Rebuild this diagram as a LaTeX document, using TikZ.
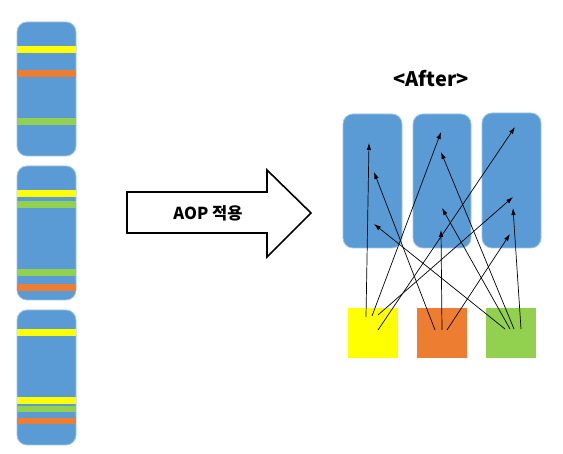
\documentclass[tikz,border=0pt]{standalone}
\usepackage{fontspec}
\setmainfont{Noto Sans CJK KR}
\usetikzlibrary{arrows.meta}
\definecolor{modblue}{HTML}{5B9BD5}
\definecolor{cutyellow}{HTML}{FFFF00}
\definecolor{cutorange}{HTML}{ED7D31}
\definecolor{cutgreen}{HTML}{92D050}
\begin{document}
\begin{tikzpicture}[x=1pt, y=-1pt, >={Latex[length=7pt,width=4.5pt]},
    module/.style={fill=modblue, draw=modblue!60!white, line width=0.8pt, rounded corners=10pt, inner sep=0pt},
    concern/.style={minimum width=50, minimum height=50, inner sep=0pt},
    link/.style={->, line width=0.7pt}]
    \useasboundingbox (0,0) rectangle (563,454);

    % Before: three modules with scattered concerns
    \node[module, minimum width=59, minimum height=134] (mod1) at (46.5,89) {};
    \node[module, minimum width=59, minimum height=134] (mod2) at (46.5,233) {};
    \node[module, minimum width=59, minimum height=135] (mod3) at (46.5,377.5) {};
    % stripes in module 1
    \fill[cutyellow] (17,46) rectangle (76,53);
    \fill[cutorange] (17,70) rectangle (76,77);
    \fill[cutgreen]  (17,118) rectangle (76,125);
    % stripes in module 2
    \fill[cutyellow] (17,190) rectangle (76,197);
    \fill[cutgreen]  (17,201) rectangle (76,208);
    \fill[cutgreen]  (17,269) rectangle (76,276);
    \fill[cutorange] (17,284) rectangle (76,291);
    % stripes in module 3
    \fill[cutyellow] (17,329) rectangle (76,336);
    \fill[cutyellow] (17,397) rectangle (76,404);
    \fill[cutgreen]  (17,406) rectangle (76,412);
    \fill[cutorange] (17,418) rectangle (76,424);

    % Big arrow
    \draw[line width=1.6pt, fill=white] (127,192) -- (267,192) -- (267,170) -- (311,213)
        -- (267,257) -- (267,233) -- (127,233) -- cycle;
    \node[font=\fontsize{16.5}{19}\selectfont\bfseries] (aop) at (208,213) {AOP 적용};

    % After
    \node[font=\fontsize{20}{23}\selectfont\bfseries] (after) at (431,79) {<After>};
    \node[module, minimum width=59, minimum height=134] (box1) at (372.5,181) {};
    \node[module, minimum width=58, minimum height=134] (box2) at (442,181) {};
    \node[module, minimum width=59, minimum height=135] (box3) at (511.5,180.5) {};

    \node[concern, fill=cutyellow] (ysq) at (373,333) {};
    \node[concern, fill=cutorange] (osq) at (442,333) {};
    \node[concern, fill=cutgreen]  (gsq) at (511,333) {};

    % start points of the advice links
    \coordinate (ya) at (366,317);
    \coordinate (yb) at (372,316);
    \coordinate (yc) at (378,315);
    \coordinate (yd) at (378,330);
    \coordinate (oa) at (435,330);
    \coordinate (ob) at (442,330);
    \coordinate (oc) at (447,330);
    \coordinate (ga) at (505,329);
    \coordinate (gb) at (510,329);
    \coordinate (gc) at (514,329);
    \coordinate (gd) at (521,329);
    % join points inside the modules
    \coordinate (j1) at (369,143);
    \coordinate (j2) at (441,132);
    \coordinate (j3) at (513,197);
    \coordinate (j4) at (515,127);
    \coordinate (j5) at (374,172);
    \coordinate (j6) at (441,230);
    \coordinate (j7) at (510,234);
    \coordinate (j8) at (374,224);
    \coordinate (j9) at (442,208);
    \coordinate (j10) at (441,152);
    \coordinate (j11) at (513,208);

    \foreach \s/\t in {ya/j1, yb/j2, yc/j3, yd/j4, oa/j5, ob/j6, oc/j7, ga/j8, gb/j9, gc/j10, gd/j11}
        \draw[link] (\s) -- (\t);
\end{tikzpicture}
\end{document}
